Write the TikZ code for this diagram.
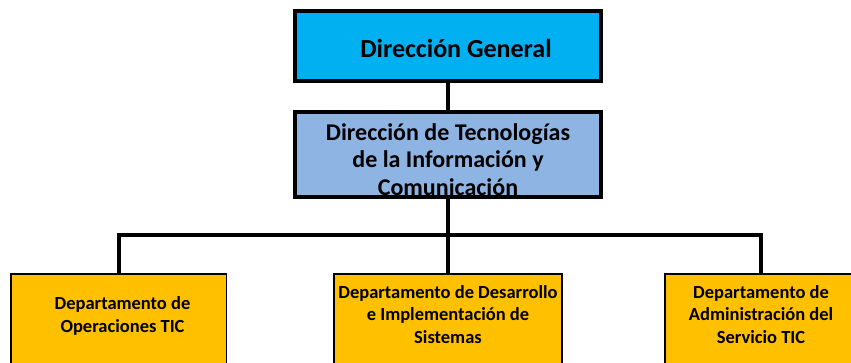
\documentclass[tikz,border=0pt]{standalone}
\usepackage{fontspec}
\setmainfont{Carlito}
\usetikzlibrary{positioning, calc}

\definecolor{dgblue}{HTML}{00B0F0}
\definecolor{dtblue}{HTML}{8EB4E3}
\definecolor{deptyellow}{HTML}{FFC000}

\begin{document}
\begin{tikzpicture}[x=1pt, y=-1pt,
        topbox/.style={draw, line width=4pt, minimum width=306pt, align=center, inner sep=0pt, anchor=base},
        deptbox/.style={draw, line width=1.5pt, fill=deptyellow, align=center, inner sep=0pt, anchor=base,
            text depth=90pt, font=\bfseries\fontsize{18.5}{22.5}\selectfont},
        conn/.style={line width=4pt}
    ]
        \useasboundingbox (0,0) rectangle (851,362);
        \clip (0,0) rectangle (851,362);

        % Direcciones
        \node[topbox, fill=dgblue, text height=46pt, text depth=24pt,
            font=\bfseries\fontsize{26}{30}\selectfont] (dg) at (448,57) {\hspace*{16pt}Dirección General};
        \node[topbox, fill=dtblue, text height=83pt, text depth=2pt,
            font=\bfseries\fontsize{24}{27.5}\selectfont] (dt) at (448,195)
            {Dirección de Tecnologías\\de la Información y\\Comunicación};

        % Departamentos
        \node[deptbox, minimum width=215.5pt, text height=58.25pt] (ops) at (118.5,332)
            {\hspace*{8pt}Departamento de\\\hspace*{8pt}Operaciones TIC};
        \node[deptbox, minimum width=228pt, text height=69.25pt] (des) at (448,343)
            {Departamento de Desarrollo\\e Implementación de\\Sistemas};
        \node[deptbox, minimum width=192pt, text height=69.25pt] (adm) at (761,343)
            {Departamento de\\Administración del\\Servicio TIC};

        \coordinate (bus) at (448,235);

        \draw[conn] (dg) -- (dt);
        \draw[conn] (dt) -- (bus);
        \draw[conn] (ops.north) |- (bus) -| (adm.north);
        \draw[conn] (bus) -- (des.north);
    \end{tikzpicture}
\end{document}
